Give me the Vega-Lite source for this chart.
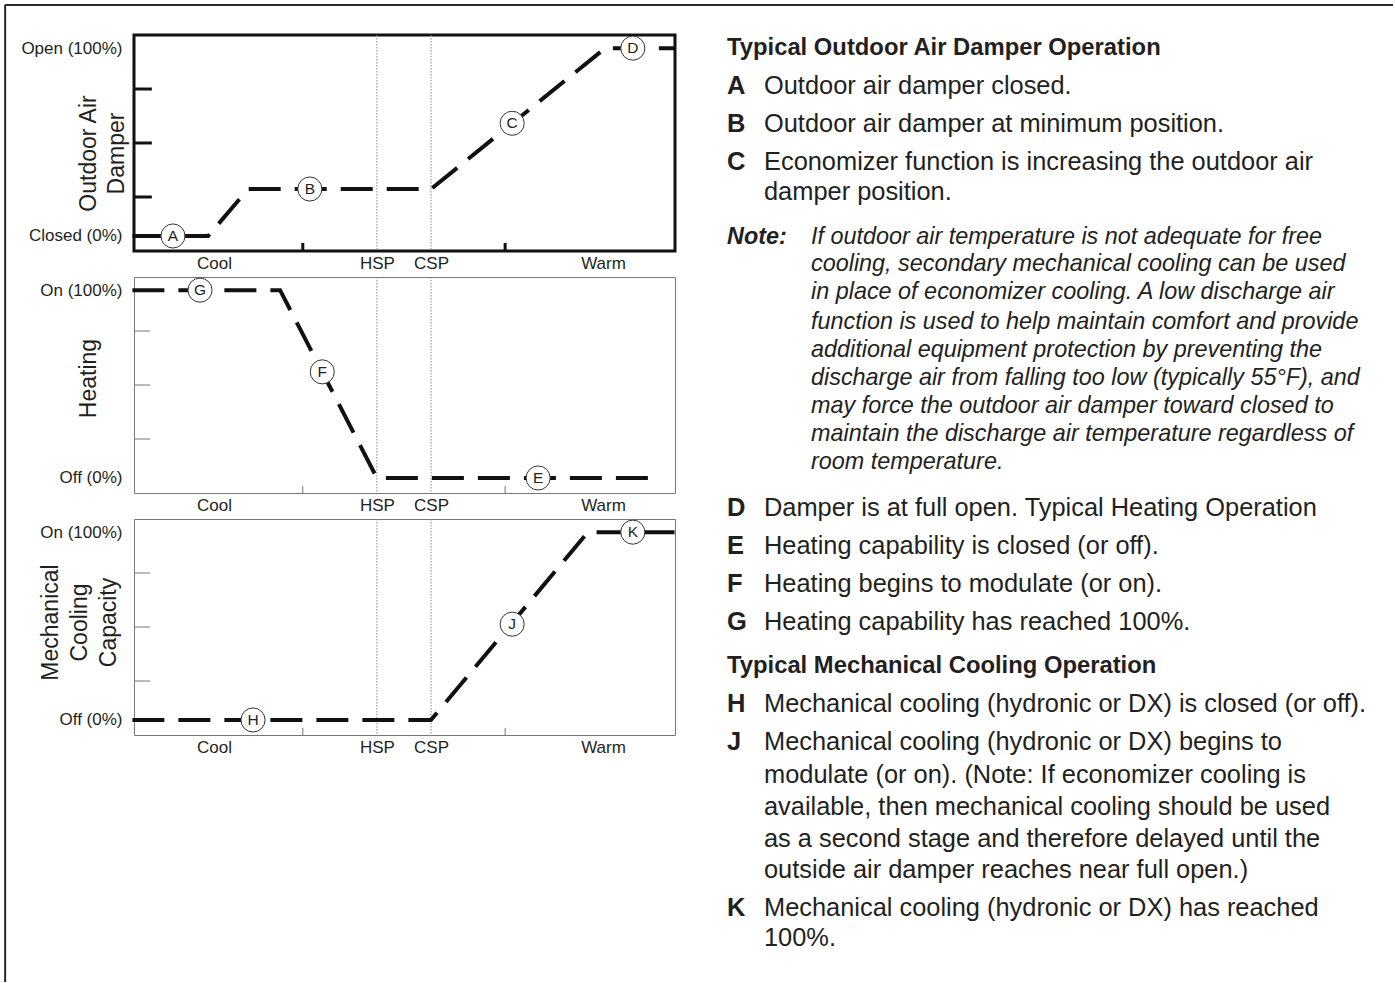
{
  "$schema": "https://vega.github.io/schema/vega-lite/v6.json",
  "background": "white",
  "padding": {"left": 4, "top": 3, "right": 0, "bottom": 0},
  "autosize": {"type": "pad"},
  "config": {
    "font": "Liberation Sans",
    "view": {"stroke": null},
    "axis": {"grid": false, "labelColor": "#231f20", "titleColor": "#231f20", "labelFont": "Liberation Sans", "titleFont": "Liberation Sans"}
  },
  "datasets": {
    "curves": [
      {"panel": "damper", "x": -0.3, "y": 0},
      {"panel": "damper", "x": 13.7, "y": 0},
      {"panel": "damper", "x": 21.1, "y": 25},
      {"panel": "damper", "x": 54.9, "y": 25},
      {"panel": "damper", "x": 87.1, "y": 100},
      {"panel": "damper", "x": 100, "y": 100},
      {"panel": "heating", "x": -0.3, "y": 100},
      {"panel": "heating", "x": 27.0, "y": 100},
      {"panel": "heating", "x": 44.9, "y": 0},
      {"panel": "heating", "x": 97.0, "y": 0},
      {"panel": "cooling", "x": -0.3, "y": 0},
      {"panel": "cooling", "x": 54.9, "y": 0},
      {"panel": "cooling", "x": 83.9, "y": 100},
      {"panel": "cooling", "x": 100, "y": 100}
    ],
    "markers": [
      {"panel": "damper", "label": "A", "x": 7.2, "y": 0},
      {"panel": "damper", "label": "B", "x": 32.5, "y": 25},
      {"panel": "damper", "label": "C", "x": 69.9, "y": 60},
      {"panel": "damper", "label": "D", "x": 92.2, "y": 100},
      {"panel": "heating", "label": "G", "x": 12.2, "y": 100},
      {"panel": "heating", "label": "F", "x": 34.8, "y": 56.5},
      {"panel": "heating", "label": "E", "x": 74.7, "y": 0},
      {"panel": "cooling", "label": "H", "x": 22.0, "y": 0},
      {"panel": "cooling", "label": "J", "x": 69.9, "y": 51},
      {"panel": "cooling", "label": "K", "x": 92.2, "y": 100}
    ],
    "setpoints": [{"name": "HSP", "x": 44.9}, {"name": "CSP", "x": 54.9}],
    "yticks": [{"y": 20.75}, {"y": 49.5}, {"y": 78.25}],
    "xticks": [{"x": 31.2}, {"x": 68.6}],
    "frame": [
      {"x1": -19.51, "x2": 18.0, "y1": -0.79, "y2": -0.79},
      {"x1": -19.51, "x2": -19.51, "y1": -0.79, "y2": 24.92}
    ],
    "lines": [
      {"cell": 1, "kind": "h", "col": 0, "row": 0.34, "text": "Typical Outdoor Air Damper Operation"},
      {"cell": 1, "kind": "l", "col": 0, "row": 1.34, "text": "A"},
      {"cell": 1, "kind": "b", "col": 1, "row": 1.34, "text": "Outdoor air damper closed."},
      {"cell": 1, "kind": "l", "col": 0, "row": 2.34, "text": "B"},
      {"cell": 1, "kind": "b", "col": 1, "row": 2.34, "text": "Outdoor air damper at minimum position."},
      {"cell": 1, "kind": "l", "col": 0, "row": 3.34, "text": "C"},
      {"cell": 1, "kind": "b", "col": 1, "row": 3.34, "text": "Economizer function is increasing the outdoor air"},
      {"cell": 1, "kind": "b", "col": 1, "row": 4.13, "text": "damper position."},
      {"cell": 1, "kind": "nl", "col": 0, "row": 5.32, "text": "Note:"},
      {"cell": 1, "kind": "n", "col": 2.27, "row": 5.32, "text": "If outdoor air temperature is not adequate for free"},
      {"cell": 1, "kind": "n", "col": 2.27, "row": 6.03, "text": "cooling, secondary mechanical cooling can be used"},
      {"cell": 2, "kind": "n", "col": 2.27, "row": 0.39, "text": "in place of economizer cooling. A low discharge air"},
      {"cell": 2, "kind": "n", "col": 2.27, "row": 1.18, "text": "function is used to help maintain comfort and provide"},
      {"cell": 2, "kind": "n", "col": 2.27, "row": 1.92, "text": "additional equipment protection by preventing the"},
      {"cell": 2, "kind": "n", "col": 2.27, "row": 2.66, "text": "discharge air from falling too low (typically 55°F), and"},
      {"cell": 2, "kind": "n", "col": 2.27, "row": 3.39, "text": "may force the outdoor air damper toward closed to"},
      {"cell": 2, "kind": "n", "col": 2.27, "row": 4.13, "text": "maintain the discharge air temperature regardless of"},
      {"cell": 2, "kind": "n", "col": 2.27, "row": 4.87, "text": "room temperature."},
      {"cell": 2, "kind": "l", "col": 0, "row": 6.08, "text": "D"},
      {"cell": 2, "kind": "b", "col": 1, "row": 6.08, "text": "Damper is at full open. Typical Heating Operation"},
      {"cell": 3, "kind": "l", "col": 0, "row": 0.71, "text": "E"},
      {"cell": 3, "kind": "b", "col": 1, "row": 0.71, "text": "Heating capability is closed (or off)."},
      {"cell": 3, "kind": "l", "col": 0, "row": 1.71, "text": "F"},
      {"cell": 3, "kind": "b", "col": 1, "row": 1.71, "text": "Heating begins to modulate (or on)."},
      {"cell": 3, "kind": "l", "col": 0, "row": 2.71, "text": "G"},
      {"cell": 3, "kind": "b", "col": 1, "row": 2.71, "text": "Heating capability has reached 100%."},
      {"cell": 3, "kind": "h", "col": 0, "row": 3.87, "text": "Typical Mechanical Cooling Operation"},
      {"cell": 3, "kind": "l", "col": 0, "row": 4.87, "text": "H"},
      {"cell": 3, "kind": "b", "col": 1, "row": 4.87, "text": "Mechanical cooling (hydronic or DX) is closed (or off)."},
      {"cell": 3, "kind": "l", "col": 0, "row": 5.87, "text": "J"},
      {"cell": 3, "kind": "b", "col": 1, "row": 5.87, "text": "Mechanical cooling (hydronic or DX) begins to"},
      {"cell": 3, "kind": "b", "col": 1, "row": 6.74, "text": "modulate (or on). (Note: If economizer cooling is"},
      {"cell": 3, "kind": "b", "col": 1, "row": 7.58, "text": "available, then mechanical cooling should be used"},
      {"cell": 3, "kind": "b", "col": 1, "row": 8.42, "text": "as a second stage and therefore delayed until the"},
      {"cell": 3, "kind": "b", "col": 1, "row": 9.24, "text": "outside air damper reaches near full open.)"},
      {"cell": 3, "kind": "l", "col": 0, "row": 10.24, "text": "K"},
      {"cell": 3, "kind": "b", "col": 1, "row": 10.24, "text": "Mechanical cooling (hydronic or DX) has reached"},
      {"cell": 3, "kind": "b", "col": 1, "row": 11.03, "text": "100%."}
    ]
  },
  "bounds": "flush",
  "columns": 2,
  "spacing": {"row": 26, "column": 52},
  "concat": [
    {
      "width": 541, "height": 216,
      "view": {"stroke": "#111", "strokeWidth": 3},
      "layer": [
        {"data": {"name": "setpoints"}, "mark": {"type": "rule", "color": "#8a8a8a", "strokeWidth": 1, "strokeDash": [1.5, 1.5]},
         "encoding": {"x": {"field": "x", "type": "quantitative", "scale": {"domain": [0, 100], "nice": false, "zero": false}}}},
        {"data": {"name": "yticks"}, "mark": {"type": "rule", "color": "#111", "strokeWidth": 3},
         "encoding": {"x": {"datum": 0, "type": "quantitative", "scale": {"domain": [0, 100], "nice": false, "zero": false}}, "x2": {"datum": 3.3},
                      "y": {"field": "y", "type": "quantitative", "scale": {"domain": [-8, 107], "nice": false, "zero": false}}}},
        {"data": {"name": "xticks"}, "mark": {"type": "rule", "color": "#111", "strokeWidth": 3},
         "encoding": {"x": {"field": "x", "type": "quantitative", "scale": {"domain": [0, 100], "nice": false, "zero": false}},
                      "y": {"datum": -8, "type": "quantitative", "scale": {"domain": [-8, 107], "nice": false, "zero": false}}, "y2": {"datum": -3.7}}},
        {"data": {"name": "curves"}, "transform": [{"filter": "datum.panel === 'damper'"}],
         "mark": {"type": "line", "color": "#111", "strokeWidth": 4, "strokeDash": [32, 14], "strokeCap": "butt"},
         "encoding": {
           "x": {"field": "x", "type": "quantitative", "scale": {"domain": [0, 100], "nice": false, "zero": false},
                 "axis": {"values": [14.8, 44.9, 54.9, 86.7], "labelExpr": "datum.value < 20 ? 'Cool' : datum.value < 50 ? 'HSP' : datum.value < 60 ? 'CSP' : 'Warm'", "ticks": false, "domain": false, "labelFontSize": 17, "labelPadding": 4, "title": null, "labelFlush": false, "labelOverlap": false}},
           "y": {"field": "y", "type": "quantitative", "scale": {"domain": [-8, 107], "nice": false, "zero": false},
                 "axis": {"values": [0, 100], "labelExpr": "datum.value > 50 ? 'Open (100%)' : 'Closed (0%)'", "ticks": false, "domain": false, "labelFontSize": 17, "labelPadding": 12, "labelBaseline": "middle", "labelFlush": false, "labelOverlap": false,
                          "title": ["Outdoor Air", "Damper"], "titleFontSize": 23, "titleFontWeight": "normal", "titleX": -46, "titleY": 118, "titleAlign": "center", "titleBaseline": "middle", "titleLineHeight": 28, "titleAngle": 270}}
         }},
        {"data": {"name": "markers"}, "transform": [{"filter": "datum.panel === 'damper'"}],
         "mark": {"type": "circle", "size": 580, "fill": "white", "stroke": "#333", "strokeWidth": 1, "opacity": 1},
         "encoding": {"x": {"field": "x", "type": "quantitative", "scale": {"domain": [0, 100], "nice": false, "zero": false}},
                      "y": {"field": "y", "type": "quantitative", "scale": {"domain": [-8, 107], "nice": false, "zero": false}}}},
        {"data": {"name": "markers"}, "transform": [{"filter": "datum.panel === 'damper'"}],
         "mark": {"type": "text", "fontSize": 15.5, "color": "#231f20", "align": "center", "baseline": "middle"},
         "encoding": {"x": {"field": "x", "type": "quantitative", "scale": {"domain": [0, 100], "nice": false, "zero": false}},
                      "y": {"field": "y", "type": "quantitative", "scale": {"domain": [-8, 107], "nice": false, "zero": false}},
                      "text": {"field": "label"}}}
      ]
    },
    {
      "width": 660, "height": 216,
      "layer": [
        {"data": {"name": "frame"}, "mark": {"type": "rule", "color": "#2a2a2a", "strokeWidth": 2, "clip": false},
         "encoding": {"x": {"field": "x1", "type": "quantitative", "scale": {"domain": [0, 17.838], "nice": false, "zero": false}, "axis": null}, "x2": {"field": "x2"},
                      "y": {"field": "y1", "type": "quantitative", "scale": {"domain": [0, 5.684], "reverse": true, "nice": false, "zero": false}, "axis": null}, "y2": {"field": "y2"}}},
        {"data": {"name": "lines"}, "transform": [{"filter": "datum.cell === 1 && datum.kind === 'h'"}],
         "mark": {"type": "text", "align": "left", "baseline": "middle", "fontSize": 23.8, "fontWeight": "bold", "color": "#231f20"},
         "encoding": {"x": {"field": "col", "type": "quantitative", "scale": {"domain": [0, 17.838], "nice": false, "zero": false}, "axis": null},
                      "y": {"field": "row", "type": "quantitative", "scale": {"domain": [0, 5.684], "reverse": true, "nice": false, "zero": false}, "axis": null},
                      "text": {"field": "text"}}},
        {"data": {"name": "lines"}, "transform": [{"filter": "datum.cell === 1 && datum.kind === 'l'"}],
         "mark": {"type": "text", "align": "left", "baseline": "middle", "fontSize": 25.5, "fontWeight": "bold", "color": "#231f20"},
         "encoding": {"x": {"field": "col", "type": "quantitative", "scale": {"domain": [0, 17.838], "nice": false, "zero": false}, "axis": null},
                      "y": {"field": "row", "type": "quantitative", "scale": {"domain": [0, 5.684], "reverse": true, "nice": false, "zero": false}, "axis": null},
                      "text": {"field": "text"}}},
        {"data": {"name": "lines"}, "transform": [{"filter": "datum.cell === 1 && datum.kind === 'b'"}],
         "mark": {"type": "text", "align": "left", "baseline": "middle", "fontSize": 25.4, "color": "#231f20"},
         "encoding": {"x": {"field": "col", "type": "quantitative", "scale": {"domain": [0, 17.838], "nice": false, "zero": false}, "axis": null},
                      "y": {"field": "row", "type": "quantitative", "scale": {"domain": [0, 5.684], "reverse": true, "nice": false, "zero": false}, "axis": null},
                      "text": {"field": "text"}}},
        {"data": {"name": "lines"}, "transform": [{"filter": "datum.cell === 1 && datum.kind === 'nl'"}],
         "mark": {"type": "text", "align": "left", "baseline": "middle", "fontSize": 23.4, "fontWeight": "bold", "fontStyle": "italic", "color": "#231f20"},
         "encoding": {"x": {"field": "col", "type": "quantitative", "scale": {"domain": [0, 17.838], "nice": false, "zero": false}, "axis": null},
                      "y": {"field": "row", "type": "quantitative", "scale": {"domain": [0, 5.684], "reverse": true, "nice": false, "zero": false}, "axis": null},
                      "text": {"field": "text"}}},
        {"data": {"name": "lines"}, "transform": [{"filter": "datum.cell === 1 && datum.kind === 'n'"}],
         "mark": {"type": "text", "align": "left", "baseline": "middle", "fontSize": 23.4, "fontStyle": "italic", "color": "#231f20"},
         "encoding": {"x": {"field": "col", "type": "quantitative", "scale": {"domain": [0, 17.838], "nice": false, "zero": false}, "axis": null},
                      "y": {"field": "row", "type": "quantitative", "scale": {"domain": [0, 5.684], "reverse": true, "nice": false, "zero": false}, "axis": null},
                      "text": {"field": "text"}}}
      ]
    },
    {
      "width": 541, "height": 216,
      "view": {"stroke": "#777", "strokeWidth": 1},
      "layer": [
        {"data": {"name": "setpoints"}, "mark": {"type": "rule", "color": "#8a8a8a", "strokeWidth": 1, "strokeDash": [1.5, 1.5]},
         "encoding": {"x": {"field": "x", "type": "quantitative", "scale": {"domain": [0, 100], "nice": false, "zero": false}}}},
        {"data": {"name": "yticks"}, "mark": {"type": "rule", "color": "#777", "strokeWidth": 1},
         "encoding": {"x": {"datum": 0, "type": "quantitative", "scale": {"domain": [0, 100], "nice": false, "zero": false}}, "x2": {"datum": 3.0},
                      "y": {"field": "y", "type": "quantitative", "scale": {"domain": [-8, 107], "nice": false, "zero": false}}}},
        {"data": {"name": "xticks"}, "mark": {"type": "rule", "color": "#777", "strokeWidth": 1},
         "encoding": {"x": {"field": "x", "type": "quantitative", "scale": {"domain": [0, 100], "nice": false, "zero": false}},
                      "y": {"datum": -8, "type": "quantitative", "scale": {"domain": [-8, 107], "nice": false, "zero": false}}, "y2": {"datum": -4.2}}},
        {"data": {"name": "curves"}, "transform": [{"filter": "datum.panel === 'heating'"}],
         "mark": {"type": "line", "color": "#111", "strokeWidth": 4, "strokeDash": [32, 14], "strokeCap": "butt"},
         "encoding": {
           "x": {"field": "x", "type": "quantitative", "scale": {"domain": [0, 100], "nice": false, "zero": false},
                 "axis": {"values": [14.8, 44.9, 54.9, 86.7], "labelExpr": "datum.value < 20 ? 'Cool' : datum.value < 50 ? 'HSP' : datum.value < 60 ? 'CSP' : 'Warm'", "ticks": false, "domain": false, "labelFontSize": 17, "labelPadding": 4, "title": null, "labelFlush": false, "labelOverlap": false}},
           "y": {"field": "y", "type": "quantitative", "scale": {"domain": [-8, 107], "nice": false, "zero": false},
                 "axis": {"values": [0, 100], "labelExpr": "datum.value > 50 ? 'On (100%)' : 'Off (0%)'", "ticks": false, "domain": false, "labelFontSize": 17, "labelPadding": 12, "labelBaseline": "middle", "labelFlush": false, "labelOverlap": false,
                          "title": "Heating", "titleFontSize": 23, "titleFontWeight": "normal", "titleX": -46, "titleY": 101, "titleAlign": "center", "titleBaseline": "middle", "titleAngle": 270}}
         }},
        {"data": {"name": "markers"}, "transform": [{"filter": "datum.panel === 'heating'"}],
         "mark": {"type": "circle", "size": 580, "fill": "white", "stroke": "#333", "strokeWidth": 1, "opacity": 1},
         "encoding": {"x": {"field": "x", "type": "quantitative", "scale": {"domain": [0, 100], "nice": false, "zero": false}},
                      "y": {"field": "y", "type": "quantitative", "scale": {"domain": [-8, 107], "nice": false, "zero": false}}}},
        {"data": {"name": "markers"}, "transform": [{"filter": "datum.panel === 'heating'"}],
         "mark": {"type": "text", "fontSize": 15.5, "color": "#231f20", "align": "center", "baseline": "middle"},
         "encoding": {"x": {"field": "x", "type": "quantitative", "scale": {"domain": [0, 100], "nice": false, "zero": false}},
                      "y": {"field": "y", "type": "quantitative", "scale": {"domain": [-8, 107], "nice": false, "zero": false}},
                      "text": {"field": "label"}}}
      ]
    },
    {
      "width": 660, "height": 216,
      "layer": [
        {"data": {"name": "lines"}, "transform": [{"filter": "datum.cell === 2 && datum.kind === 'l'"}],
         "mark": {"type": "text", "align": "left", "baseline": "middle", "fontSize": 25.5, "fontWeight": "bold", "color": "#231f20"},
         "encoding": {"x": {"field": "col", "type": "quantitative", "scale": {"domain": [0, 17.838], "nice": false, "zero": false}, "axis": null},
                      "y": {"field": "row", "type": "quantitative", "scale": {"domain": [0, 5.684], "reverse": true, "nice": false, "zero": false}, "axis": null},
                      "text": {"field": "text"}}},
        {"data": {"name": "lines"}, "transform": [{"filter": "datum.cell === 2 && datum.kind === 'b'"}],
         "mark": {"type": "text", "align": "left", "baseline": "middle", "fontSize": 25.4, "color": "#231f20"},
         "encoding": {"x": {"field": "col", "type": "quantitative", "scale": {"domain": [0, 17.838], "nice": false, "zero": false}, "axis": null},
                      "y": {"field": "row", "type": "quantitative", "scale": {"domain": [0, 5.684], "reverse": true, "nice": false, "zero": false}, "axis": null},
                      "text": {"field": "text"}}},
        {"data": {"name": "lines"}, "transform": [{"filter": "datum.cell === 2 && datum.kind === 'n'"}],
         "mark": {"type": "text", "align": "left", "baseline": "middle", "fontSize": 23.4, "fontStyle": "italic", "color": "#231f20"},
         "encoding": {"x": {"field": "col", "type": "quantitative", "scale": {"domain": [0, 17.838], "nice": false, "zero": false}, "axis": null},
                      "y": {"field": "row", "type": "quantitative", "scale": {"domain": [0, 5.684], "reverse": true, "nice": false, "zero": false}, "axis": null},
                      "text": {"field": "text"}}}
      ]
    },
    {
      "width": 541, "height": 216,
      "view": {"stroke": "#777", "strokeWidth": 1},
      "layer": [
        {"data": {"name": "setpoints"}, "mark": {"type": "rule", "color": "#8a8a8a", "strokeWidth": 1, "strokeDash": [1.5, 1.5]},
         "encoding": {"x": {"field": "x", "type": "quantitative", "scale": {"domain": [0, 100], "nice": false, "zero": false}}}},
        {"data": {"name": "yticks"}, "mark": {"type": "rule", "color": "#777", "strokeWidth": 1},
         "encoding": {"x": {"datum": 0, "type": "quantitative", "scale": {"domain": [0, 100], "nice": false, "zero": false}}, "x2": {"datum": 3.0},
                      "y": {"field": "y", "type": "quantitative", "scale": {"domain": [-8, 107], "nice": false, "zero": false}}}},
        {"data": {"name": "xticks"}, "mark": {"type": "rule", "color": "#777", "strokeWidth": 1},
         "encoding": {"x": {"field": "x", "type": "quantitative", "scale": {"domain": [0, 100], "nice": false, "zero": false}},
                      "y": {"datum": -8, "type": "quantitative", "scale": {"domain": [-8, 107], "nice": false, "zero": false}}, "y2": {"datum": -4.2}}},
        {"data": {"name": "curves"}, "transform": [{"filter": "datum.panel === 'cooling'"}],
         "mark": {"type": "line", "color": "#111", "strokeWidth": 4, "strokeDash": [32, 14], "strokeCap": "butt"},
         "encoding": {
           "x": {"field": "x", "type": "quantitative", "scale": {"domain": [0, 100], "nice": false, "zero": false},
                 "axis": {"values": [14.8, 44.9, 54.9, 86.7], "labelExpr": "datum.value < 20 ? 'Cool' : datum.value < 50 ? 'HSP' : datum.value < 60 ? 'CSP' : 'Warm'", "ticks": false, "domain": false, "labelFontSize": 17, "labelPadding": 4, "title": null, "labelFlush": false, "labelOverlap": false}},
           "y": {"field": "y", "type": "quantitative", "scale": {"domain": [-8, 107], "nice": false, "zero": false},
                 "axis": {"values": [0, 100], "labelExpr": "datum.value > 50 ? 'On (100%)' : 'Off (0%)'", "ticks": false, "domain": false, "labelFontSize": 17, "labelPadding": 12, "labelBaseline": "middle", "labelFlush": false, "labelOverlap": false,
                          "title": ["Mechanical", "Cooling", "Capacity"], "titleFontSize": 23, "titleFontWeight": "normal", "titleX": -84, "titleY": 103, "titleAlign": "center", "titleBaseline": "middle", "titleLineHeight": 29, "titleAngle": 270}}
         }},
        {"data": {"name": "markers"}, "transform": [{"filter": "datum.panel === 'cooling'"}],
         "mark": {"type": "circle", "size": 580, "fill": "white", "stroke": "#333", "strokeWidth": 1, "opacity": 1},
         "encoding": {"x": {"field": "x", "type": "quantitative", "scale": {"domain": [0, 100], "nice": false, "zero": false}},
                      "y": {"field": "y", "type": "quantitative", "scale": {"domain": [-8, 107], "nice": false, "zero": false}}}},
        {"data": {"name": "markers"}, "transform": [{"filter": "datum.panel === 'cooling'"}],
         "mark": {"type": "text", "fontSize": 15.5, "color": "#231f20", "align": "center", "baseline": "middle"},
         "encoding": {"x": {"field": "x", "type": "quantitative", "scale": {"domain": [0, 100], "nice": false, "zero": false}},
                      "y": {"field": "y", "type": "quantitative", "scale": {"domain": [-8, 107], "nice": false, "zero": false}},
                      "text": {"field": "label"}}}
      ]
    },
    {
      "width": 660, "height": 216,
      "layer": [
        {"data": {"name": "lines"}, "transform": [{"filter": "datum.cell === 3 && datum.kind === 'h'"}],
         "mark": {"type": "text", "align": "left", "baseline": "middle", "fontSize": 23.8, "fontWeight": "bold", "color": "#231f20"},
         "encoding": {"x": {"field": "col", "type": "quantitative", "scale": {"domain": [0, 17.838], "nice": false, "zero": false}, "axis": null},
                      "y": {"field": "row", "type": "quantitative", "scale": {"domain": [0, 5.684], "reverse": true, "nice": false, "zero": false}, "axis": null},
                      "text": {"field": "text"}}},
        {"data": {"name": "lines"}, "transform": [{"filter": "datum.cell === 3 && datum.kind === 'l'"}],
         "mark": {"type": "text", "align": "left", "baseline": "middle", "fontSize": 25.5, "fontWeight": "bold", "color": "#231f20"},
         "encoding": {"x": {"field": "col", "type": "quantitative", "scale": {"domain": [0, 17.838], "nice": false, "zero": false}, "axis": null},
                      "y": {"field": "row", "type": "quantitative", "scale": {"domain": [0, 5.684], "reverse": true, "nice": false, "zero": false}, "axis": null},
                      "text": {"field": "text"}}},
        {"data": {"name": "lines"}, "transform": [{"filter": "datum.cell === 3 && datum.kind === 'b'"}],
         "mark": {"type": "text", "align": "left", "baseline": "middle", "fontSize": 25.4, "color": "#231f20"},
         "encoding": {"x": {"field": "col", "type": "quantitative", "scale": {"domain": [0, 17.838], "nice": false, "zero": false}, "axis": null},
                      "y": {"field": "row", "type": "quantitative", "scale": {"domain": [0, 5.684], "reverse": true, "nice": false, "zero": false}, "axis": null},
                      "text": {"field": "text"}}}
      ]
    }
  ]
}
